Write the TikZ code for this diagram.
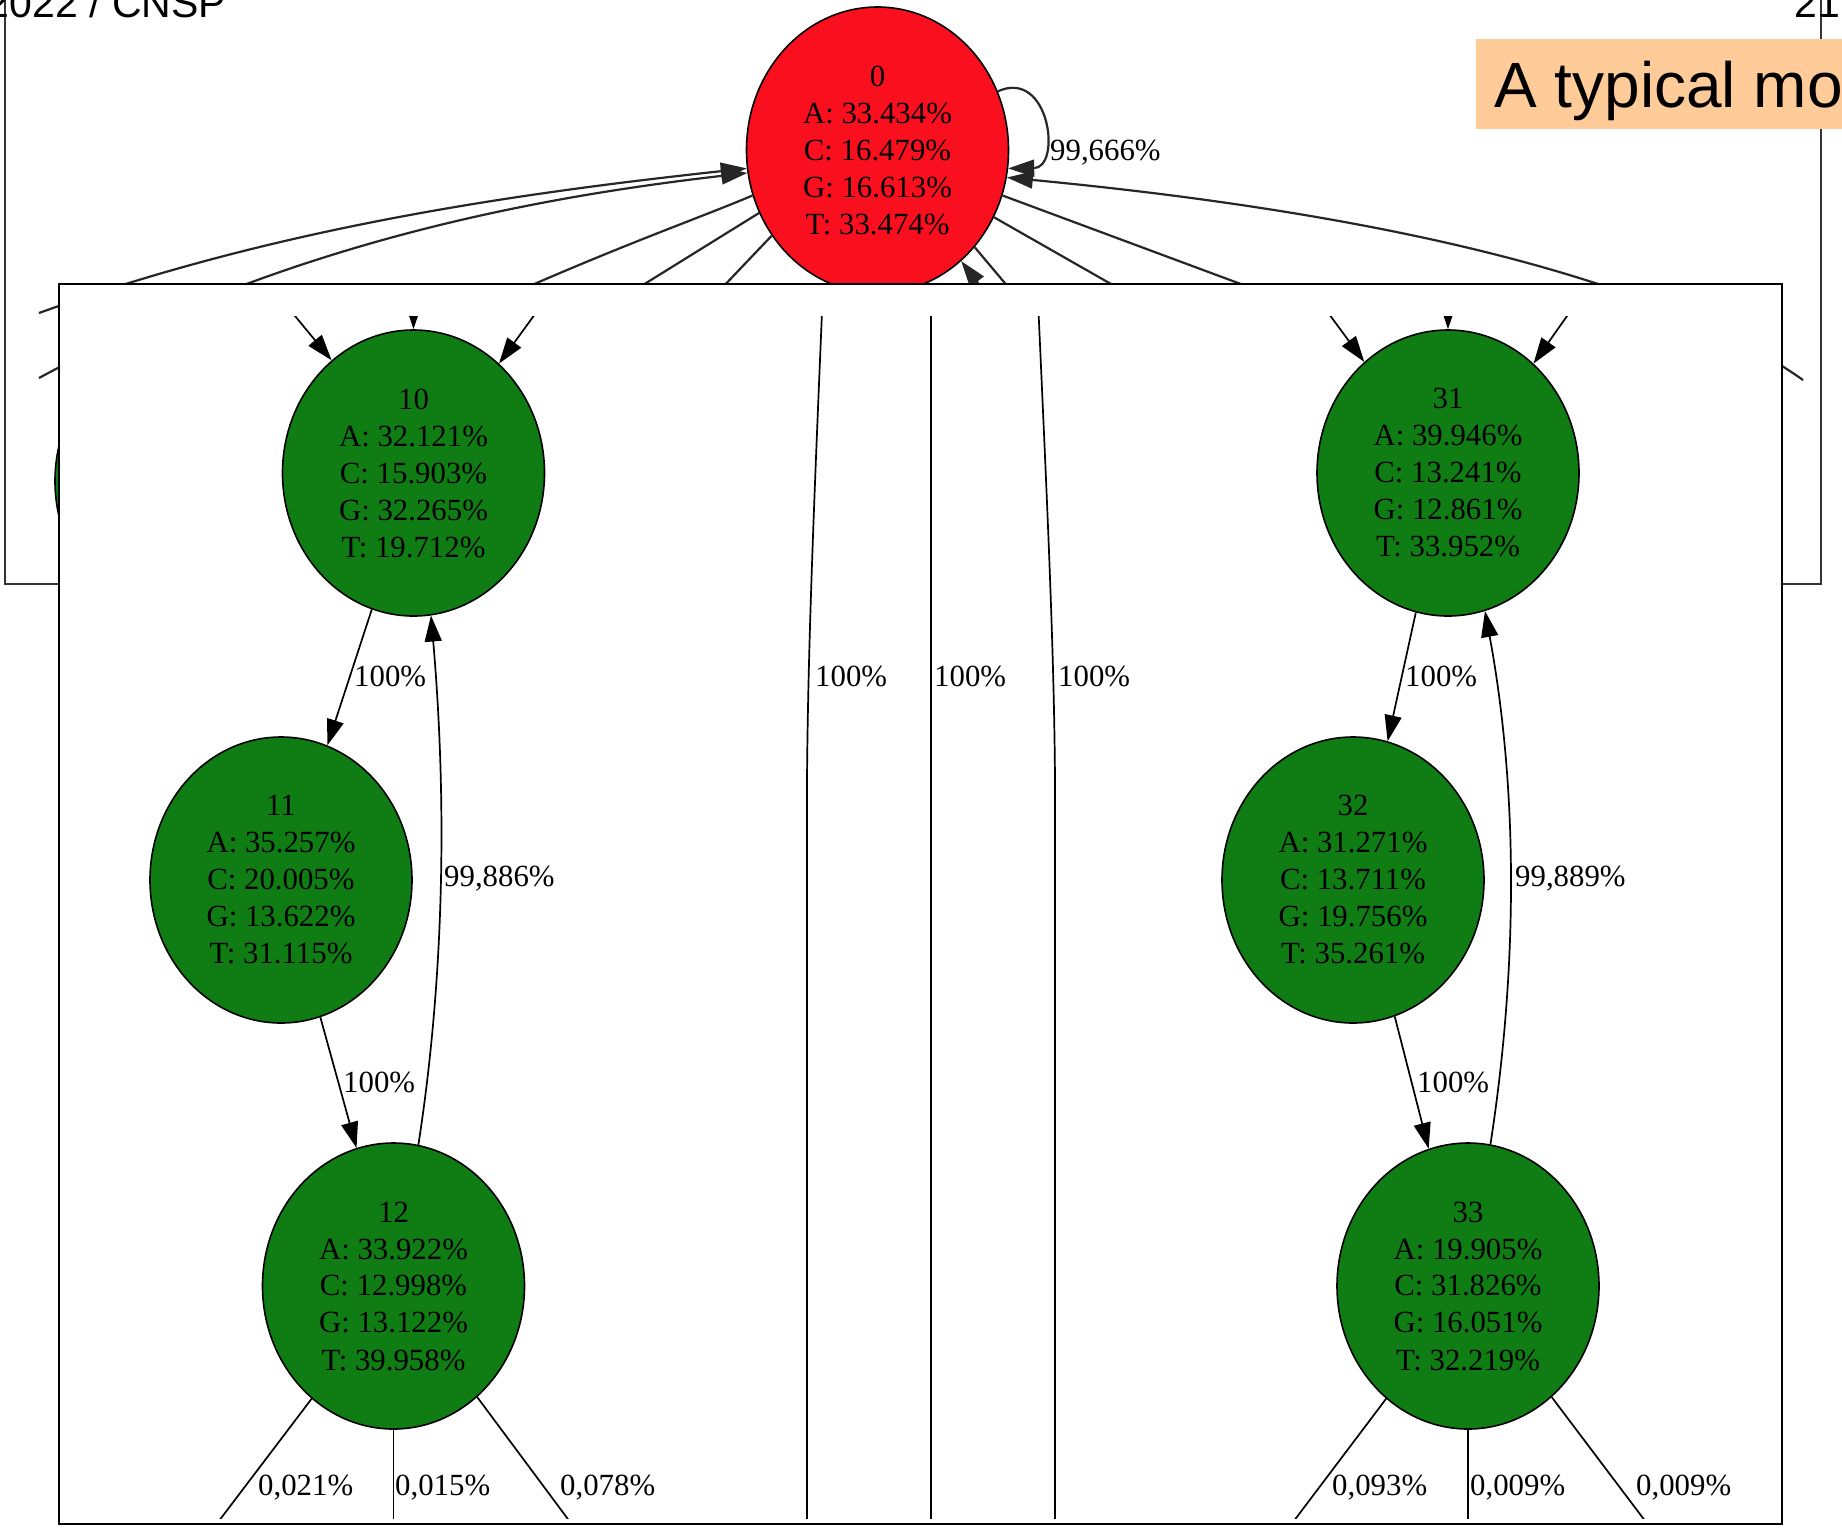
\documentclass[tikz,border=0pt]{standalone}
\usepackage{fontspec}
\setmainfont{Liberation Serif}
\newfontfamily\slidefont{Liberation Sans}
\usetikzlibrary{arrows.meta,shapes.geometric}

\definecolor{statered}{RGB}{250,15,30}
\definecolor{stategreen}{RGB}{15,125,20}
\definecolor{titlebg}{RGB}{255,204,153}

\begin{document}
\begin{tikzpicture}[x=1pt,y=-1pt,
  mstate/.style={ellipse,draw=black,line width=1.6pt,minimum width=262pt,
    minimum height=286pt,inner sep=0pt,align=center,
    font=\fontsize{30.8}{37}\selectfont},
  redstate/.style={mstate,fill=statered},
  greenstate/.style={mstate,fill=stategreen},
  link/.style={line width=1.7pt,draw=black},
  backlink/.style={line width=2.2pt,draw=black!85},
  arr/.style={link,-{Triangle[length=26pt,width=17pt]}},
  backarr/.style={backlink,-{Triangle[length=26pt,width=17pt]}},
  elabel/.style={anchor=west,inner sep=0pt,font=\fontsize{30.8}{37}\selectfont},
  panel/.style={draw=black,fill=white,line width=1.8pt},
  slidetext/.style={anchor=base west,inner sep=0pt,font=\slidefont\fontsize{41}{41}\selectfont},
]
\useasboundingbox (0,0) rectangle (1842,1527);
\clip (0,0) rectangle (1842,1527);

% ---------- slide frame with the full model graph ----------
\draw[panel,line width=1.4pt,draw=black!80] (5,-10) rectangle (1821,584);

\node[greenstate] (g0) at (186,481) {};
\node[redstate] (n0) at (877.5,150)
  {0\\A: 33.434\%\\C: 16.479\%\\G: 16.613\%\\T: 33.474\%};

% edges entering state 0 from the left
\coordinate (a0) at (39,313);
\coordinate (b0) at (39,378);
\draw[backarr] (a0) .. controls (275,228) and (511,194) .. (n0.188);
\draw[backarr] (b0) .. controls (275,250) and (511,200) .. (n0.190.5);

% edges leaving state 0 towards the lower left
\coordinate (c1) at (434,329);
\coordinate (d1) at (580,324);
\coordinate (e1) at (700,311);
\draw[backlink] (n0.200.6) .. controls (690,222) and (600,252) .. (c1);
\draw[backlink] (n0.208.5) -- (d1);
\draw[backlink] (n0.219) -- (e1);

% self loop
\draw[backarr] (n0.26) .. controls (1050,68) and (1062,168) .. (n0.-8);
\node[elabel] (l00) at (1050,153) {99,666\%};

% edges on the right of state 0
\coordinate (f0) at (1803,380);
\draw[backarr] (f0) .. controls (1666,283) and (1400,215) .. (n0.-12.4);
\coordinate (g1) at (1300,306);
\coordinate (h1) at (1160,312);
\coordinate (i1) at (1030,313);
\coordinate (j0) at (1000,312);
\draw[backlink] (n0.-20.8) -- (g1);
\draw[backlink] (n0.-30.8) -- (h1);
\draw[backlink] (n0.-45.4) -- (i1);
\draw[backarr] (j0) -- (n0.-53.6);

% slide header
\node[slidetext] (hdr) at (-13.5,17) {2022 / CNSP};
\node[slidetext] (pgno) at (1794,17) {21};
\node[fill=titlebg,inner sep=0pt,anchor=north west,minimum width=380pt,
  minimum height=90pt] (tbox) at (1476,39) {};
\node[anchor=base west,inner sep=0pt,font=\slidefont\fontsize{64}{64}\selectfont]
  (title) at (1494,107) {A typical mo};

% ---------- enlarged detail of the two chains ----------
\draw[panel] (59,284) rectangle (1782,1524);
\begin{scope}
\clip (59,316) rectangle (1782,1518);

\node[greenstate] (n10) at (413.5,473) {10\\A: 32.121\%\\C: 15.903\%\\G: 32.265\%\\T: 19.712\%};
\node[greenstate] (n11) at (281,880) {11\\A: 35.257\%\\C: 20.005\%\\G: 13.622\%\\T: 31.115\%};
\node[greenstate] (n12) at (393.5,1286) {12\\A: 33.922\%\\C: 12.998\%\\G: 13.122\%\\T: 39.958\%};
\node[greenstate] (n31) at (1448,473) {31\\A: 39.946\%\\C: 13.241\%\\G: 12.861\%\\T: 33.952\%};
\node[greenstate] (n32) at (1353,880) {32\\A: 31.271\%\\C: 13.711\%\\G: 19.756\%\\T: 35.261\%};
\node[greenstate] (n33) at (1468,1286) {33\\A: 19.905\%\\C: 31.826\%\\G: 16.051\%\\T: 32.219\%};

% incoming edges from above
\coordinate (p10a) at (281,299);
\coordinate (p10b) at (413.5,290);
\coordinate (p10c) at (546,299);
\draw[arr] (p10a) -- (n10.126.3);
\draw[arr] (p10b) -- (n10.90);
\draw[arr] (p10c) -- (n10.52.4);
\coordinate (p31a) at (1318,299);
\coordinate (p31b) at (1448,290);
\coordinate (p31c) at (1579,299);
\draw[arr] (p31a) -- (n31.127.4);
\draw[arr] (p31b) -- (n31.90);
\draw[arr] (p31c) -- (n31.52.6);

% left chain
\draw[arr] (n10.-107.5) -- (n11.71.7);
\node[elabel] (t1011) at (354,676) {100\%};
\draw[arr] (n11.-74.6) -- (n12.105);
\node[elabel] (t1112) at (343,1082) {100\%};
\draw[arr] (n12.80.7) .. controls (446,966) and (446,790) .. (n10.-83);
\node[elabel] (t1210) at (444,879) {99,886\%};

% right chain
\draw[arr] (n31.-103.7) -- (n32.76.7);
\node[elabel] (t3132) at (1405,676) {100\%};
\draw[arr] (n32.-73.7) -- (n33.106.8);
\node[elabel] (t3233) at (1417,1082) {100\%};
\draw[arr] (n33.81.5) .. controls (1518,966) and (1518,790) .. (n31.-75.6);
\node[elabel] (t3331) at (1515,879) {99,889\%};

% exits at the bottom
\coordinate (q12a) at (206,1538);
\coordinate (q12b) at (393.5,1540);
\coordinate (q12c) at (582,1538);
\draw[link] (n12.-126.4) -- (q12a);
\draw[link] (n12.-90) -- (q12b);
\draw[link] (n12.-53.6) -- (q12c);
\node[elabel] (x12a) at (258,1488) {0,021\%};
\node[elabel] (x12b) at (395,1488) {0,015\%};
\node[elabel] (x12c) at (560,1488) {0,078\%};

\coordinate (q33a) at (1281,1538);
\coordinate (q33b) at (1468,1540);
\coordinate (q33c) at (1658,1538);
\draw[link] (n33.-126.7) -- (q33a);
\draw[link] (n33.-90) -- (q33b);
\draw[link] (n33.-53.1) -- (q33c);
\node[elabel] (x33a) at (1332,1488) {0,093\%};
\node[elabel] (x33b) at (1470,1488) {0,009\%};
\node[elabel] (x33c) at (1636,1488) {0,009\%};

% long edges through the middle
\coordinate (m1t) at (822.5,300);
\coordinate (m1k) at (807,780);
\coordinate (m1b) at (807,1540);
\coordinate (m2t) at (931,300);
\coordinate (m2b) at (931,1540);
\coordinate (m3t) at (1038,300);
\coordinate (m3k) at (1055,780);
\coordinate (m3b) at (1055,1540);
\draw[link] (m1t) .. controls (815,480) and (808,640) .. (m1k) -- (m1b);
\draw[link] (m2t) -- (m2b);
\draw[link] (m3t) .. controls (1046,480) and (1054,640) .. (m3k) -- (m3b);
\node[elabel] (tm1) at (815,676) {100\%};
\node[elabel] (tm2) at (934,676) {100\%};
\node[elabel] (tm3) at (1058,676) {100\%};
\end{scope}

\end{tikzpicture}
\end{document}
